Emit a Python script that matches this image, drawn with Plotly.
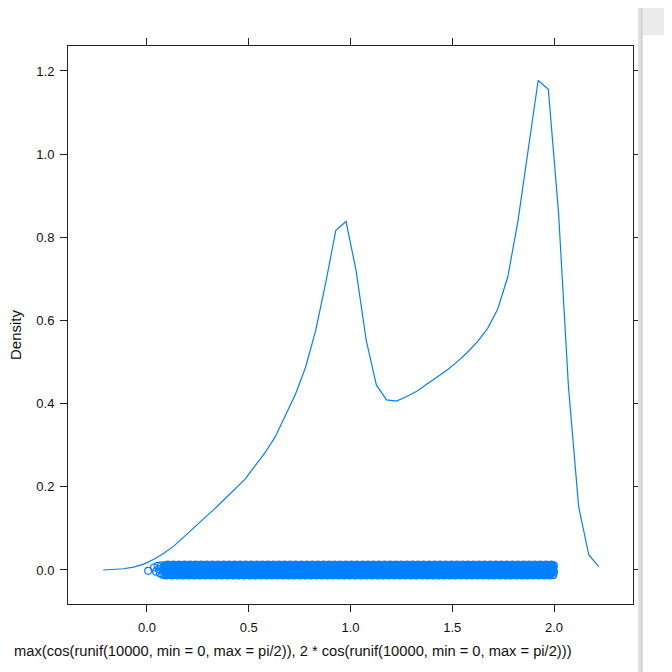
import plotly.graph_objects as go

# density curve
dens_x = [-0.215, -0.165, -0.116, -0.066, -0.016, 0.034, 0.083, 0.133, 0.183, 0.232,
          0.282, 0.332, 0.381, 0.431, 0.481, 0.530, 0.580, 0.630, 0.680, 0.729,
          0.779, 0.829, 0.878, 0.928, 0.978, 1.027, 1.077, 1.127, 1.177, 1.226,
          1.276, 1.326, 1.376, 1.425, 1.475, 1.525, 1.574, 1.624, 1.674, 1.723,
          1.773, 1.823, 1.872, 1.922, 1.972, 2.022, 2.071, 2.121, 2.171, 2.220]
dens_y = [0.000, 0.001, 0.003, 0.007, 0.014, 0.026, 0.040, 0.058, 0.080, 0.103,
          0.125, 0.147, 0.170, 0.193, 0.218, 0.250, 0.282, 0.320, 0.370, 0.422,
          0.487, 0.576, 0.690, 0.817, 0.838, 0.721, 0.553, 0.445, 0.409, 0.406,
          0.417, 0.430, 0.447, 0.463, 0.481, 0.501, 0.523, 0.549, 0.581, 0.627,
          0.705, 0.840, 1.010, 1.177, 1.156, 0.860, 0.440, 0.152, 0.036, 0.008]

# rug of jittered points at y = 0
rug_sparse_x = [0.006, 0.035, 0.045, 0.052, 0.058, 0.064, 0.070, 0.075, 0.080]
rug_sparse_y = [-0.002, 0.006, -0.004, 0.010, 0.002, -0.008, 0.011, -0.011, 0.004]
rug_band_start, rug_band_end, rug_band_step = 0.085, 2.0, 0.0013
jitter_pattern = [-0.012, 0.004, 0.011, -0.005, 0.008, -0.009, 0.0, 0.012, -0.013, 0.005,
                  -0.002, 0.009, -0.010, 0.002, 0.013, -0.007, 0.006, -0.003, 0.010, -0.012,
                  0.001]

x_ticks = [0.0, 0.5, 1.0, 1.5, 2.0]
y_ticks = [0.0, 0.2, 0.4, 0.6, 0.8, 1.0, 1.2]
x_label = "max(cos(runif(10000, min = 0, max = pi/2)), 2 * cos(runif(10000, min = 0, max = pi/2)))"
y_label = "Density"

BLUE = "#0080ff"
FONT = "Liberation Sans, Arial, sans-serif"

band_x = []
band_y = []
n = int(round((rug_band_end - rug_band_start) / rug_band_step)) + 1
for i in range(n):
    band_x.append(rug_band_start + i * rug_band_step)
    band_y.append(jitter_pattern[i % len(jitter_pattern)])

fig = go.Figure()
fig.add_trace(go.Scatter(x=rug_sparse_x + band_x, y=rug_sparse_y + band_y, mode="markers",
                         marker=dict(symbol="circle-open", size=7, color=BLUE,
                                     line=dict(width=1.2, color=BLUE)),
                         hoverinfo="skip"))
fig.add_trace(go.Scatter(x=dens_x, y=dens_y, mode="lines",
                         line=dict(color=BLUE, width=1.2), hoverinfo="skip"))

# page has an 8px body margin: work in page pixels and shift
OFF = 8
W = H = 672 - OFF
L, R, T, B = 68 - OFF, 633 - OFF, 46 - OFF, 604 - OFF

def px(x):
    return (x - OFF - L) / (R - L)

def py(y):
    return (B - (y - OFF)) / (B - T)

axis_common = dict(showline=True, linecolor="#222222", linewidth=1, mirror="ticks",
                   ticks="outside", ticklen=7, tickcolor="#222222", tickwidth=1,
                   showgrid=False, zeroline=False, tickformat=".1f",
                   tickfont=dict(family=FONT, size=13, color="#111111"))

fig.update_layout(
    width=W, height=H,
    margin=dict(l=L, r=W - R, t=T, b=H - B),
    paper_bgcolor="white", plot_bgcolor="white",
    showlegend=False,
    xaxis=dict(range=[-0.388, 2.388], tickvals=x_ticks, ticklabelstandoff=4, **axis_common),
    yaxis=dict(range=[-0.0818, 1.260], tickvals=y_ticks, ticklabelstandoff=3, **axis_common),
    annotations=[
        dict(text=x_label, xref="paper", yref="paper", x=px(574), y=py(651),
             xanchor="right", yanchor="middle", showarrow=False,
             font=dict(family=FONT, size=14.7, color="#111111")),
        dict(text=y_label, xref="paper", yref="paper", x=px(15), y=py(335),
             xanchor="center", yanchor="middle", showarrow=False, textangle=-90,
             font=dict(family=FONT, size=15, color="#111111")),
    ],
    shapes=[
        # side panel overlay on the right
        dict(type="rect", xref="paper", yref="paper", x0=px(638), x1=px(642), y0=py(690), y1=py(8),
             fillcolor="#e0e0e0", line=dict(width=0), layer="above"),
        dict(type="rect", xref="paper", yref="paper", x0=px(642), x1=px(700), y0=py(690), y1=py(4),
             fillcolor="white", line=dict(color="#bdbdbd", width=1), layer="above"),
        dict(type="rect", xref="paper", yref="paper", x0=px(643), x1=px(700), y0=py(35), y1=py(5),
             fillcolor="#ececec", line=dict(width=0), layer="above"),
    ],
)

fig.write_html("out.html")
